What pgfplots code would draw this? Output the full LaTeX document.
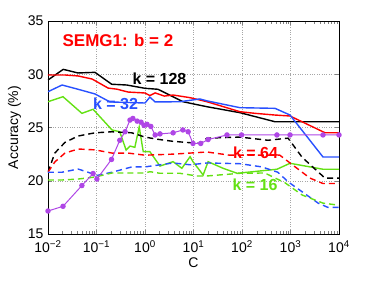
\documentclass[border=0pt]{standalone}
\usepackage{fontspec}
\setmainfont{Liberation Sans}
\usepackage{pgfplots}
\pgfplotsset{compat=1.18}
\definecolor{mblue}{RGB}{40,80,255}
\definecolor{mgreen}{RGB}{100,225,20}
\definecolor{mpurple}{RGB}{175,70,230}
\begin{document}
\begin{tikzpicture}
\useasboundingbox (-48pt,-47pt) rectangle (326pt,234pt);
\begin{axis}[
 at={(0,0)}, anchor=south west,
 scale only axis, width=291pt, height=213pt,
 xmode=log, xmin=0.01, xmax=10000, ymin=15, ymax=35,
 xtick={0.01,0.1,1,10,100,1000,10000},
 xticklabels={10\textsuperscript{−2},10\textsuperscript{−1},10\textsuperscript{0},10\textsuperscript{1},10\textsuperscript{2},10\textsuperscript{3},10\textsuperscript{4}},
 ytick={15,20,25,30,35},
 /pgf/number format/assume math mode=true,
 tick align=inside,
 grid=major, grid style={dotted, gray!70, line width=0.5pt},
 axis line style={line width=0.6pt},
 tick label style={font=\fontsize{14}{14}\selectfont},
 xticklabel style={yshift=-3pt},
 yticklabel style={xshift=-1pt},
 label style={font=\fontsize{14}{14}\selectfont},
 xlabel={C}, ylabel={Accuracy (\%)},
 xlabel style={yshift=2pt},
 every axis plot/.append style={line width=1.4pt},
 clip=true,
]
% black solid k=128
\addplot[black] coordinates {(0.01,29.46) (0.0206,30.46) (0.0416,30.12) (0.093,30.18) (0.206,29.06) (0.42,28.99) (1,28.68) (1.85,28.59) (3.78,27.89) (6.08,27.42) (19,26.95) (91,26.39) (480,25.54) (10000,25.54)};
% red solid
\addplot[red] coordinates {(0.01,29.93) (0.0224,29.93) (0.0417,29.84) (0.0813,29.55) (0.174,28.7) (0.263,28.6) (0.447,28.33) (1,28.24) (1.26,28.0) (1.62,28.25) (2.5,27.95) (3.8,28.05) (8.5,27.8) (19,27.42) (91,26.48) (186,26.33) (479,26.17) (977,26.08) (5129,24.51) (10000,24.51)};
% blue solid k=32
\addplot[mblue] coordinates {(0.01,28.36) (0.0195,28.99) (0.0417,28.59) (0.093,28.15) (0.19,27.4) (1,27.3) (1.26,27.85) (1.62,27.4) (5.25,27.42) (13.5,27.68) (19,27.5) (91,26.86) (479,26.8) (977,26.17) (4677,22.23) (10000,22.23)};
% green solid
\addplot[mgreen] coordinates {(0.01,27.42) (0.0204,27.89) (0.05,26.33) (0.085,26.71) (0.209,24.77) (0.302,24.6) (0.407,22.89) (0.49,23.26) (0.617,23.14) (0.76,25.05) (0.92,22.73) (1.26,22.73) (2.04,21.38) (3.8,21.79) (5.75,21.17) (8.5,22.26) (9.77,21.79) (15.8,20.54) (20,21.79) (40.7,21.17) (79.4,20.7) (525,21.08) (977,21.64) (4677,21.08) (10000,21.08)};
% black dashed
\addplot[black, dash pattern=on 6pt off 4pt] coordinates {(0.01,20.8) (0.0138,22.6) (0.0224,23.6) (0.0417,24.2) (0.093,24.5) (0.209,24.6) (0.537,24.5) (1,24.1) (1.78,23.9) (3.8,23.7) (13.5,23.5) (19,24.0) (91,24.1) (344,23.8) (891,24.0) (1738,22.2) (5129,20.25) (10000,20.25)};
% red dashed k=64
\addplot[red, dash pattern=on 6pt off 4pt] coordinates {(0.01,20.8) (0.0138,21.76) (0.0224,22.6) (0.0417,22.98) (0.093,22.9) (0.209,22.6) (0.447,22.6) (1,22.4) (3.8,22.5) (19,22.7) (56,22.4) (603,22.4) (977,21.67) (2512,20.25) (4677,19.74) (10000,19.74)};
% blue dashed
\addplot[mblue, dash pattern=on 6pt off 4pt] coordinates {(0.01,20.8) (0.0195,20.8) (0.0417,21.1) (0.0668,20.8) (0.102,20.5) (0.209,20.8) (0.537,21.3) (1,21.3) (3.8,21.67) (8.5,21.5) (19,21.67) (91,21.6) (257,21.3) (550,20.8) (891,19.9) (3715,17.9) (5888,17.5) (10000,17.5)};
% green dashed k=16
\addplot[mgreen, dash pattern=on 6pt off 4pt] coordinates {(0.01,20.07) (0.0195,20.07) (0.0417,20.16) (0.093,20.35) (0.209,20.73) (1,20.73) (1.26,20.85) (2.04,20.7) (5.25,20.7) (11.7,20.45) (19,20.45) (91,20.7) (295,20.73) (776,19.8) (1738,18.66) (4677,17.9) (10000,17.7)};
% purple with markers
\addplot[mpurple, line width=1pt, mark=*, mark size=2.2pt, mark options={solid, fill=mpurple, draw=mpurple}] coordinates {(0.01,17.16) (0.0204,17.6) (0.05,19.55) (0.085,20.68) (0.102,20.16) (0.204,22.0) (0.302,23.8) (0.389,24.6) (0.49,25.7) (0.562,25.85) (0.69,25.6) (0.83,25.5) (0.955,25.2) (1.1,25.3) (1.32,25.1) (1.62,24.3) (2.04,24.4) (3.8,24.5) (6.03,24.77) (7.76,24.6) (9.77,23.5) (14.1,23.5) (20,23.87) (49,24.3) (97.7,24.3) (525,24.3) (977,24.3) (4677,24.3) (10000,24.3)};
\node[text=red, font=\bfseries\fontsize{17}{17}\selectfont] at (axis cs:0.277,33.17) {SEMG1: b = 2};
\node[text=black, font=\bfseries\fontsize{16}{16}\selectfont] at (axis cs:1.99,29.55) {k = 128};
\node[text=mblue, font=\bfseries\fontsize{16}{16}\selectfont] at (axis cs:0.247,27.2) {k = 32};
\node[text=red, font=\bfseries\fontsize{16}{16}\selectfont] at (axis cs:190,22.6) {k = 64};
\node[text=mgreen, font=\bfseries\fontsize{16}{16}\selectfont] at (axis cs:186,19.6) {k = 16};
\end{axis}
\end{tikzpicture}
\end{document}
